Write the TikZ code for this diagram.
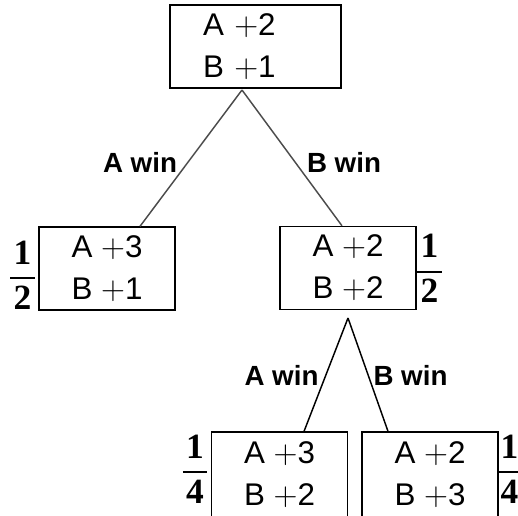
\documentclass[tikz,border=0pt]{standalone}
\usepackage[no-math]{fontspec}
\setmainfont{Liberation Sans}
\newfontfamily\probfont{Liberation Serif}
\usetikzlibrary{positioning}

% stacked probability, bold serif digits over a bar
\newcommand{\prob}[2]{$\displaystyle{\hbox{\kern2.5pt#1\kern2.5pt}\above1.3pt\hbox{\kern2.5pt#2\kern2.5pt}}$}

\begin{document}
\begin{tikzpicture}[x=0.75pt, y=-0.75pt,
    score/.style={draw, line width=1pt, inner sep=0pt, minimum width=102pt,
      minimum height=62.25pt, align=center, font=\fontsize{23.5}{31.5}\selectfont},
    win/.style={inner sep=0pt, font=\fontsize{20.8}{24}\selectfont\bfseries},
    probnum/.style={inner sep=0pt, font=\fontsize{26.6}{30}\selectfont\probfont\bfseries},
    branch/.style={line width=1.1pt}]
  \useasboundingbox (0,0) rectangle (518,515);

  % score boxes
  \node[score, text width=128.25pt, align=left] (root) at (255.5,46.5)
    {\hspace*{24.75pt}A $+$2\\\hspace*{24.75pt}B $+$1};
  \node[score] (a) at (107,268.5) {A $+$3\\B $+$1};
  \node[score] (b) at (348,268) {A $+$2\\B $+$2};
  \node[score, minimum height=64.5pt] (ba) at (279.5,475) {A $+$3\\B $+$2};
  \node[score, minimum height=64.5pt] (bb) at (430,475) {A $+$2\\B $+$3};

  % branches
  \coordinate (s0) at (242,90);
  \coordinate (s1) at (348,318);
  \draw[branch, black!70] (s0) -- ([xshift=24.75pt]a.north);
  \draw[branch, black!70] (s0) -- ([xshift=-4.5pt]b.north);
  \draw[branch] (s1) -- ([xshift=18.4pt]ba.north);
  \draw[branch] (s1) -- ([xshift=-31.5pt]bb.north);

  \node[win] (awin1) at (140,162) {A win};
  \node[win] (bwin1) at (344,162) {B win};
  \node[win] (awin2) at (281.5,375) {A win};
  \node[win] (bwin2) at (410.5,375) {B win};

  % probabilities
  \node[probnum] (pa) at (22.5,275) {\prob{1}{2}};
  \node[probnum] (pb) at (429.5,268.5) {\prob{1}{2}};
  \node[probnum] (pba) at (195,469) {\prob{1}{4}};
  \node[probnum] (pbb) at (509.5,469) {\prob{1}{4}};
\end{tikzpicture}
\end{document}
